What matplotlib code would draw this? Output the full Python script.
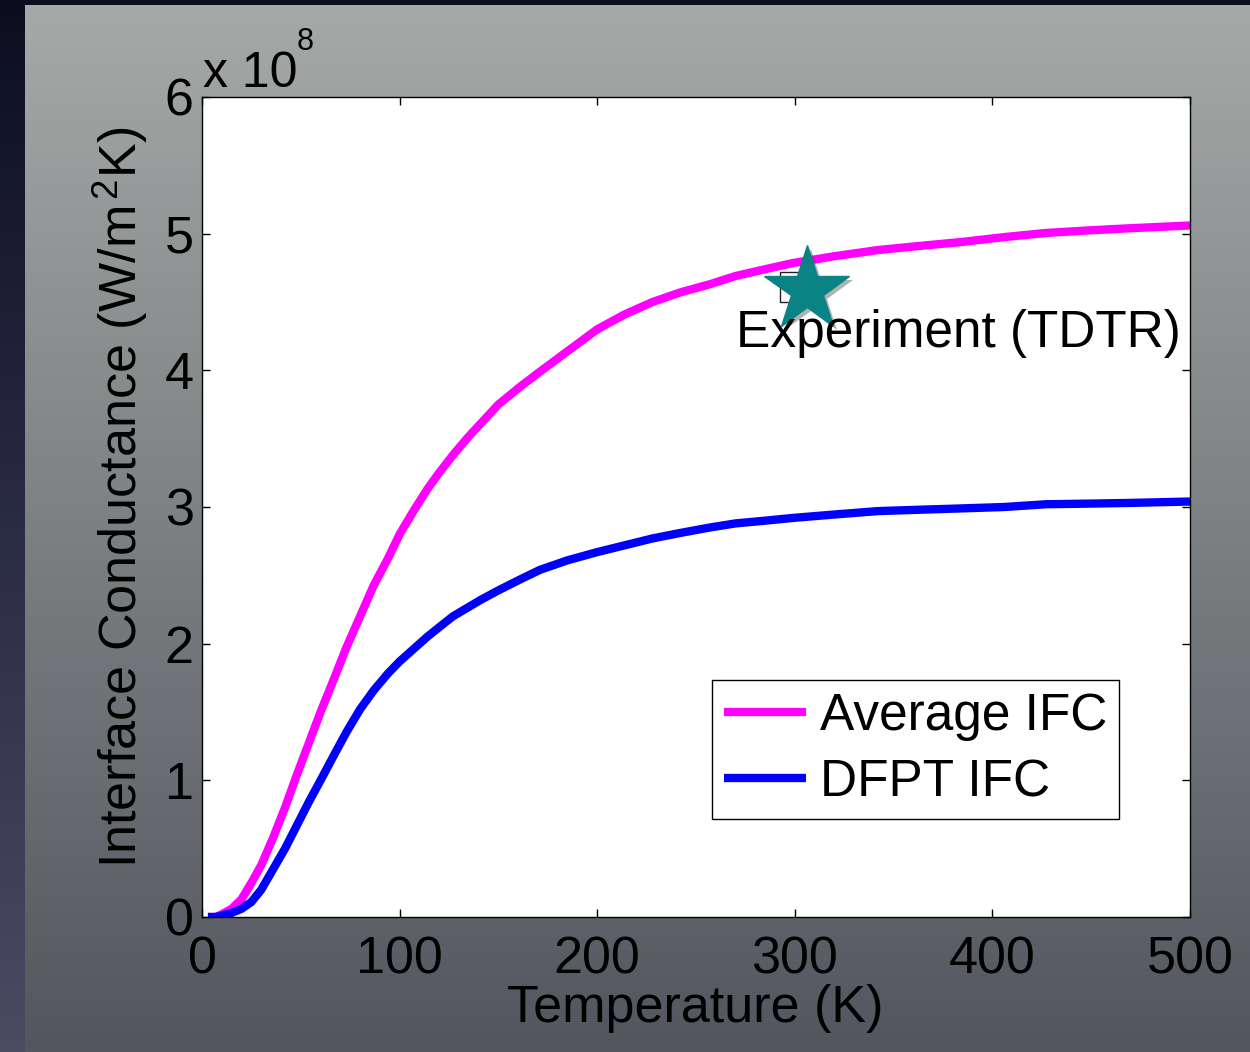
import numpy as np
import matplotlib.pyplot as plt
import matplotlib.patheffects as pe
from matplotlib.colors import LinearSegmentedColormap

plt.rcParams['font.family'] = ['Liberation Sans', 'DejaVu Sans']
plt.rcParams['mathtext.fontset'] = 'custom'
plt.rcParams['mathtext.rm'] = 'Liberation Sans'
plt.rcParams['mathtext.it'] = 'Liberation Sans:italic'
plt.rcParams['mathtext.bf'] = 'Liberation Sans:bold'

# data, conductance in units of 1e8 W/m^2K
temperature = [3, 7, 10, 15, 20, 25, 30, 36, 42, 48, 54, 60, 67, 73, 80, 87, 94,
               100, 107, 114, 120, 127, 134, 141, 150, 161, 171, 185, 200, 214,
               228, 242, 257, 270, 285, 299, 320, 342, 363, 385, 406, 427, 450,
               470, 485, 500]
g_average = [0.0, 0.0, 0.02, 0.06, 0.13, 0.25, 0.38, 0.58, 0.80, 1.04, 1.27, 1.50,
             1.75, 1.97, 2.20, 2.43, 2.62, 2.80, 2.97, 3.13, 3.25, 3.38, 3.50, 3.61,
             3.75, 3.88, 3.99, 4.14, 4.30, 4.41, 4.50, 4.57, 4.63, 4.69, 4.74, 4.785,
             4.835, 4.88, 4.91, 4.94, 4.975, 5.005, 5.025, 5.04, 5.05, 5.06]
g_dfpt = [0.0, 0.0, 0.01, 0.03, 0.06, 0.11, 0.20, 0.35, 0.50, 0.67, 0.84, 1.00,
          1.19, 1.35, 1.52, 1.66, 1.78, 1.87, 1.96, 2.05, 2.12, 2.20, 2.26, 2.32,
          2.39, 2.47, 2.54, 2.61, 2.67, 2.72, 2.77, 2.81, 2.85, 2.88, 2.90, 2.92,
          2.945, 2.97, 2.98, 2.99, 3.00, 3.02, 3.025, 3.03, 3.035, 3.04]
exp_square = (300, 4.61)
exp_star = (306, 4.59)

fig = plt.figure(figsize=(12.5, 10.52), dpi=100)
fig.patch.set_facecolor('#0c0e20')

# slide background: dark left strip and gray gradient panel
bg = fig.add_axes([0, 0, 1, 1], zorder=-5)
bg.set_axis_off()
strip = LinearSegmentedColormap.from_list('strip', ['#4c4b62', '#2a2b44', '#0c0e20'])
bg.imshow(np.linspace(0, 1, 256).reshape(-1, 1), cmap=strip, aspect='auto',
          extent=[0, 0.02, 0, 1], origin='lower')
panel = LinearSegmentedColormap.from_list('panel', ['#53565e', '#7d8082', '#a6a9a8'])
bg.imshow(np.linspace(0, 1, 256).reshape(-1, 1), cmap=panel, aspect='auto',
          extent=[0.02, 1, 0, 1 - 5 / 1052], origin='lower')
bg.set_xlim(0, 1)
bg.set_ylim(0, 1)

ax = fig.add_axes([202 / 1250, 1 - 917 / 1052, 988 / 1250, 820 / 1052])
ax.set_facecolor('white')

ax.plot(temperature, g_average, color='#ff00ff', lw=6, label='Average IFC',
        solid_capstyle='butt')
ax.plot(temperature, g_dfpt, color='#0000ff', lw=6, label='DFPT IFC',
        solid_capstyle='butt')

ax.plot(*exp_square, marker='s', ms=21, mfc='none', mec='#222222', mew=1, zorder=4)
ax.plot(*exp_star, marker='*', ms=64, color='#0a8384', mec='#0a8384', zorder=5,
        path_effects=[pe.SimplePatchShadow(offset=(3, -3), shadow_rgbFace='#555555',
                                           alpha=0.45), pe.Normal()])
ax.text(0.540, 0.695, 'Experiment (TDTR)', transform=ax.transAxes, fontsize=37,
        ha='left', va='baseline', zorder=6)

ax.set_xlim(0, 500)
ax.set_ylim(0, 6)
ax.set_xticks([0, 100, 200, 300, 400, 500])
ax.set_yticks([0, 1, 2, 3, 4, 5, 6])
ax.tick_params(direction='in', length=6, width=1, top=True, right=True,
               labelsize=37.5, colors='black')
ax.tick_params(axis='x', pad=13)
ax.tick_params(axis='y', pad=6)
for s in ax.spines.values():
    s.set_linewidth(1)
    s.set_color('black')

ax.set_xlabel('Temperature (K)', fontsize=37.5)
ax.xaxis.set_label_coords(0.499, -0.082)
ax.set_ylabel(r'Interface Conductance (W/m$^{\,2}$K)', fontsize=37.5)
ax.yaxis.set_label_coords(-0.053, 0.512)

fig.text(203 / 1250, 1 - 87 / 1052, 'x 10', fontsize=36, va='baseline')
fig.text(297 / 1250, 1 - 50 / 1052, '8', fontsize=22, va='baseline')

leg = ax.legend(loc='lower left', bbox_to_anchor=(0.516, 0.119), borderaxespad=0,
                fontsize=37, frameon=True, fancybox=False, framealpha=1,
                handlelength=1.6, handletextpad=0.26, borderpad=0.24,
                labelspacing=0.33)
leg.get_frame().set_edgecolor('black')
leg.get_frame().set_linewidth(1)

fig.savefig('out.png', dpi=100, facecolor=fig.get_facecolor())
